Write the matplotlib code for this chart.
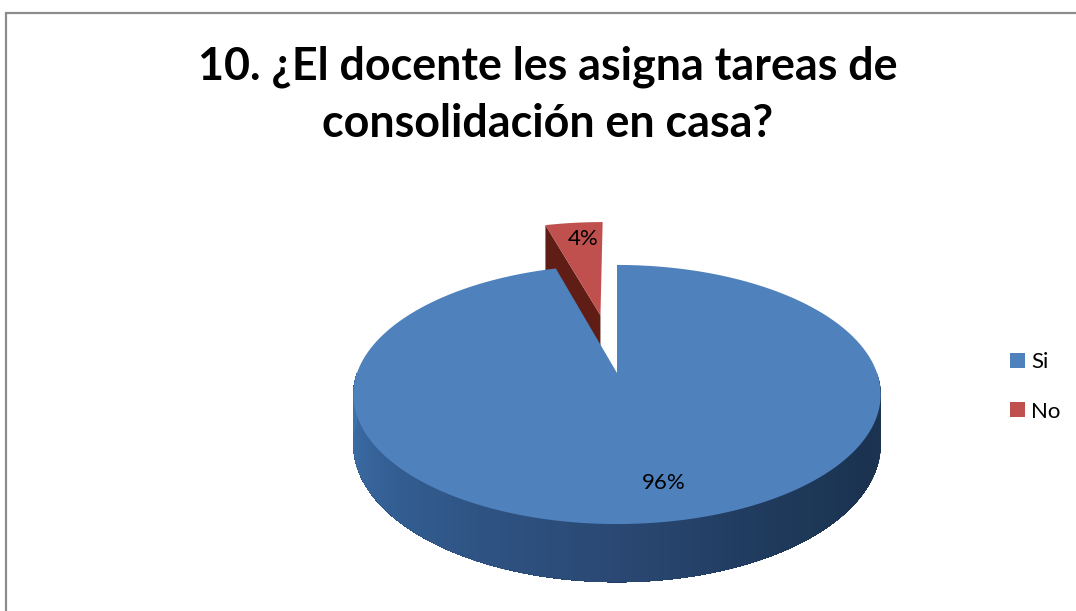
import numpy as np
from matplotlib import pyplot as plt
from matplotlib.colors import LinearSegmentedColormap
from matplotlib.patches import Patch

plt.rcParams['font.family'] = ['Lato', 'DejaVu Sans']

title_lines = ['10. ¿El docente les asigna tareas de', 'consolidación en casa?']
labels = ['Si', 'No']
values = [95.6, 4.4]
colors = ['#4f81bd', '#c0504d']
explode_no = 0.5

# projection of the pie disc onto the picture, in pixels
CX, CY = 617, 373
RX, RY = 260, 126
PERSP = 0.166
DEPTH = 48.4


def project(u, v, down=0.0):
    w = 1 + PERSP * v
    return CX + RX * u / w, CY - RY * v / w + down / w


def slice_points(start, stop, shift=(0, 0), n=200):
    # angles run clockwise from the top of the disc, like the office pie
    a = np.radians(np.linspace(start, stop, n))
    return shift[0] + np.sin(a), shift[1] + np.cos(a)


fig = plt.figure(figsize=(10.76, 6.11), dpi=100, facecolor='white')
ax = fig.add_axes([0, 0, 1, 1])
ax.set_xlim(0, 1076)
ax.set_ylim(611, 0)
ax.axis('off')

# chart frame, only the top and left sides are inside the crop
ax.plot([6, 6, 1076], [611, 12.5, 12.5], color='#8c8c8c', linewidth=1.6, solid_joinstyle='miter')

fractions = np.cumsum(values) / np.sum(values) * 360
si_stop = fractions[0]

# exploded slice, side face first
mid = np.radians((si_stop + 360) / 2)
shift = (explode_no * np.sin(mid), explode_no * np.cos(mid))
left_u, left_v = slice_points(si_stop, si_stop, shift, n=1)
side_u = np.array([shift[0], left_u[0], left_u[0], shift[0]])
side_v = np.array([shift[1], left_v[0], left_v[0], shift[1]])
side_d = np.array([0, 0, DEPTH * 1.3, DEPTH * 1.3])
sx, sy = project(side_u, side_v, side_d)
ax.fill(sx, sy, color='#5f1d16', linewidth=0, zorder=2)

u, v = slice_points(si_stop, 360, shift)
u = np.r_[shift[0], u]
v = np.r_[shift[1], v]
px, py = project(u, v)
ax.fill(px, py, color=colors[1], linewidth=0, zorder=3)

# front wall of the big slice, shaded left to right
wall = LinearSegmentedColormap.from_list('wall', ['#4273ad', '#36639a', '#2f5585', '#2a4873', '#1f3a5c', '#1b3351', '#1c3552'])
angles = np.linspace(90, 270, 181)
for i, a0 in enumerate(angles[:-1]):
    # each strip runs on to the end of the wall, the next one paints over it
    wu, wv = slice_points(a0, 270, n=182 - i)
    qu = np.r_[wu, wu[::-1]]
    qv = np.r_[wv, wv[::-1]]
    qd = np.r_[np.zeros(len(wu)), np.full(len(wu), DEPTH)]
    qx, qy = project(qu, qv, qd)
    ax.fill(qx, qy, color=wall(1 - i / 179), linewidth=0, zorder=4 + i * 0.001)

u, v = slice_points(0, si_stop)
u = np.r_[0, u]
v = np.r_[0, v]
px, py = project(u, v)
ax.fill(px, py, color=colors[0], linewidth=0, zorder=5)

ax.text(664, 483, f'{values[0]:.0f}%', fontsize=16, ha='center', va='center', color='black', zorder=6)
ax.text(583, 239, f'{values[1]:.0f}%', fontsize=16, ha='center', va='center', color='black', zorder=6)

ax.text(548, 67, title_lines[0], fontsize=32.3, fontweight='bold', ha='center', va='center', color='black')
ax.text(548, 124, title_lines[1], fontsize=32.3, fontweight='bold', ha='center', va='center', color='black')

handles = [Patch(facecolor=c, edgecolor='none') for c in colors]
ax.legend(handles, labels, loc='center left', bbox_to_anchor=(1010 / 1076, 1 - 387 / 611), frameon=False,
          fontsize=16, handlelength=0.66, handleheight=0.66, handletextpad=0.3,
          labelspacing=1.33, borderpad=0, borderaxespad=0)

fig.savefig('out.png', dpi=100)
